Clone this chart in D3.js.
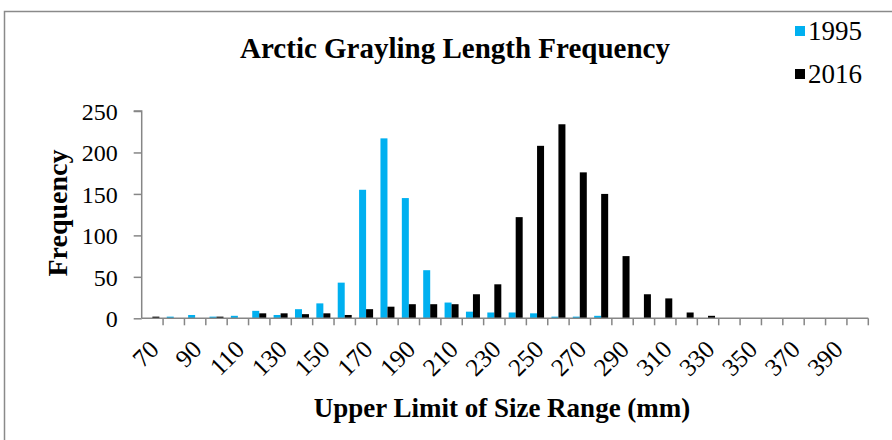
<!DOCTYPE html>
<html>
<head>
<meta charset="utf-8">
<script src="https://cdn.jsdelivr.net/npm/d3@7"></script>
<style>
  html, body { margin: 0; padding: 0; background: #fff; }
  svg { display: block; }
  text { font-family: "Liberation Serif", "Times New Roman", serif; fill: #000; }
</style>
</head>
<body>
<svg id="chart" width="892" height="440"></svg>
<script>
// ---- data ----
const categories = [70, 80, 90, 100, 110, 120, 130, 140, 150, 160, 170, 180, 190, 200, 210, 220, 230, 240,
                    250, 260, 270, 280, 290, 300, 310, 320, 330, 340, 350, 360, 370, 380, 390, 400];
const series1995 = [0, 2, 4, 2, 3, 9, 4, 11, 18, 43, 155, 217, 145, 58, 19, 8, 7, 7,
                    6, 2, 2, 3, 0, 0, 0, 0, 0, 0, 0, 0, 0, 0, 0, 0];
const series2016 = [2, 0, 0, 2, 0, 6, 6, 5, 6, 4, 11, 14, 17, 17, 17, 29, 41, 122,
                    208, 234, 176, 150, 75, 29, 24, 7, 3, 0, 0, 0, 0, 0, 0, 0];
const seriesNames = ["1995", "2016"];
const seriesColors = ["#00B0F0", "#000000"];
const yTicks = [0, 50, 100, 150, 200, 250];
const xTickLabels = categories.filter((d, i) => i % 2 === 0);

const titleText = "Arctic Grayling Length Frequency";
const xTitle = "Upper Limit of Size Range (mm)";
const yTitle = "Frequency";

// ---- layout ----
const svg = d3.select("#chart");
const plot = { left: 141.7, right: 868.3, top: 111, bottom: 318.3 };
const axisColor = "#868686";

// outer border
svg.append("rect")
  .attr("x", 4.5).attr("y", 11.5)
  .attr("width", 1000).attr("height", 1000)
  .attr("fill", "none").attr("stroke", "#8a8a8a").attr("stroke-width", 1.5);

const x0 = d3.scaleBand().domain(categories).range([plot.left, plot.right]).padding(0);
const barW = 7;
const x1 = d3.scaleBand().domain(seriesNames)
  .range([x0.bandwidth() / 2 - barW, x0.bandwidth() / 2 + barW]).padding(0);
const y = d3.scaleLinear().domain([0, 250]).range([plot.bottom, plot.top]);

// bars
const rows = categories.map((c, i) => ({ cat: c, vals: [series1995[i], series2016[i]] }));
const g = svg.append("g");
seriesNames.forEach((name, si) => {
  g.append("g").selectAll("rect")
    .data(rows)
    .join("rect")
    .attr("x", d => x0(d.cat) + x1(name))
    .attr("width", x1.bandwidth())
    .attr("y", d => y(d.vals[si]))
    .attr("height", d => y(0) - y(d.vals[si]))
    .attr("fill", seriesColors[si]);
});

// y axis
const yAxis = d3.axisLeft(y).tickValues(yTicks).tickSize(8).tickPadding(16).tickFormat(d3.format("d"));
const yg = svg.append("g").attr("transform", `translate(${plot.left},0)`).call(yAxis);
yg.select(".domain").attr("stroke", axisColor).attr("stroke-width", 1.5).attr("d", `M-8,${plot.top}H0V${plot.bottom}`);
yg.selectAll(".tick line").attr("stroke", axisColor).attr("stroke-width", 1.5);
yg.selectAll(".tick text")
  .style("font-family", '"Liberation Serif", "Times New Roman", serif')
  .style("font-size", "24px").attr("fill", "#000").attr("dy", "0.34em");

// x axis: boundary ticks
const xAxisG = svg.append("g");
xAxisG.append("line")
  .attr("x1", plot.left).attr("x2", plot.right)
  .attr("y1", plot.bottom).attr("y2", plot.bottom)
  .attr("stroke", axisColor).attr("stroke-width", 1.5);
xAxisG.selectAll("line.bt")
  .data(categories)
  .join("line")
  .attr("class", "bt")
  .attr("x1", d => x0(d) + x0.step()).attr("x2", d => x0(d) + x0.step())
  .attr("y1", plot.bottom).attr("y2", plot.bottom + 7)
  .attr("stroke", axisColor).attr("stroke-width", 1.5);

// x labels rotated
xAxisG.selectAll("text.xl")
  .data(xTickLabels)
  .join("text")
  .attr("class", "xl")
  .attr("text-anchor", "end")
  .style("font-size", "25px")
  .attr("transform", d => {
    const cx = x0(d) + x0.bandwidth() / 2;
    return `translate(${cx + 8},${351}) rotate(-45)`;
  })
  .text(d => d);

// title
svg.append("text")
  .attr("x", 455).attr("y", 58)
  .attr("text-anchor", "middle")
  .style("font-size", "29px").style("font-weight", "bold")
  .text(titleText);

// axis titles
svg.append("text")
  .attr("x", 502).attr("y", 417)
  .attr("text-anchor", "middle")
  .style("font-size", "27px").style("font-weight", "bold")
  .text(xTitle);

svg.append("text")
  .attr("transform", "translate(67,213) rotate(-90)")
  .attr("text-anchor", "middle")
  .style("font-size", "28px").style("font-weight", "bold")
  .text(yTitle);

// legend
const leg = svg.append("g");
seriesNames.forEach((name, i) => {
  const ly = 40 + i * 43;
  leg.append("rect")
    .attr("x", 795).attr("y", ly - 14).attr("width", 10).attr("height", 10)
    .attr("fill", seriesColors[i]);
  leg.append("text")
    .attr("x", 808).attr("y", ly)
    .style("font-size", "27px")
    .text(name);
});
</script>
</body>
</html>
